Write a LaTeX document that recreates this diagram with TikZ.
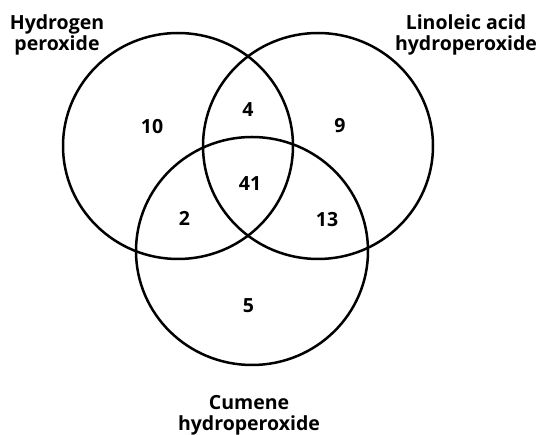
\documentclass[tikz,border=0pt]{standalone}
\usepackage{fontspec}
\setmainfont{Open Sans}
\begin{document}
\begin{tikzpicture}[x=1pt,y=-1pt,
  ring/.style={draw=black,line width=2.5pt},
  lbl/.style={inner sep=0pt,align=center,font=\bfseries\fontsize{19.5}{21}\selectfont},
  num/.style={inner sep=0pt,font=\bfseries\fontsize{19.5}{21}\selectfont}]
\useasboundingbox (0,0) rectangle (539,435);
\draw[ring] (178,146) ellipse [x radius=115, y radius=113];
\draw[ring] (318,146) ellipse [x radius=115, y radius=113];
\draw[ring] (252,251) ellipse [x radius=116, y radius=114];
\node[lbl] (h2o2) at (57,35) {Hydrogen\\peroxide};
\node[lbl] (lin) at (466,35) {Linoleic acid\\hydroperoxide};
\node[lbl] (cum) at (249,415) {Cumene\\hydroperoxide};
\node[num] (n10) at (152,127) {10};
\node[num] (n4) at (248,110) {4};
\node[num] (n9) at (340,126) {9};
\node[num] (n41) at (250,184) {41};
\node[num] (n2) at (184.5,218.5) {2};
\node[num] (n13) at (327,220) {13};
\node[num] (n5) at (248.5,306) {5};
\end{tikzpicture}
\end{document}
